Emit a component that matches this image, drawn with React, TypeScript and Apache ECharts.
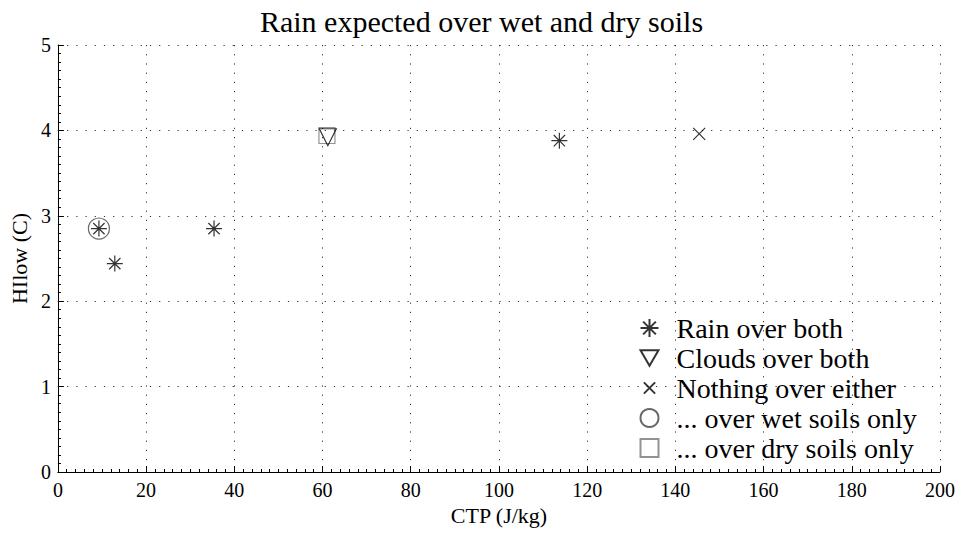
import React, { useEffect, useRef } from "react";
import * as echarts from "echarts";

const title = "Rain expected over wet and dry soils";
const xName = "CTP (J/kg)";
const yName = "HIlow (C)";

const rainOverBoth: number[][] = [
  [9.3, 2.85],
  [12.9, 2.44],
  [35.4, 2.85],
  [113.7, 3.88],
];
const cloudsOverBoth: number[][] = [[61.2, 3.92]];
const nothingOverEither: number[][] = [[145.4, 3.96]];
const wetSoilsOnly: number[][] = [[9.3, 2.85]];
const drySoilsOnly: number[][] = [[61.0, 3.94]];

const seriesNames = [
  "Rain over both",
  "Clouds over both",
  "Nothing over either",
  "... over wet soils only",
  "... over dry soils only",
];

const ASTERISK =
  "path://M0 -10 L0 10 M-10 0 L10 0 M-7.07 -7.07 L7.07 7.07 M-7.07 7.07 L7.07 -7.07";
const CROSS = "path://M-10 -10 L10 10 M-10 10 L10 -10";
const CROSS_SMALL = "path://M-16 -16 L-16 -16 M16 16 L16 16 M-10 -10 L10 10 M-10 10 L10 -10";
const TRI_DOWN = "path://M-10 -8.66 L10 -8.66 L0 8.66 Z";

const FONT = "'Liberation Serif', 'Times New Roman', serif";

export default function App() {
  const ref = useRef<HTMLDivElement>(null);
  useEffect(() => {
    document.body.style.margin = "0";
    if (!ref.current) return;
    const chart = echarts.init(ref.current, undefined, { renderer: "svg" });
    const gridLine = { color: "#333", width: 1, type: [1.2, 8] as number[] };
    const stroke = (c: string, w = 1) => ({ color: "none", borderColor: c, borderWidth: w });
    chart.setOption({
      animation: false,
      backgroundColor: "#fff",
      title: {
        text: title,
        left: "center",
        top: 1,
        textStyle: { fontFamily: FONT, fontSize: 30, fontWeight: "normal", color: "#000" },
      },
      grid: { left: 57, right: 23, top: 45, bottom: 63, containLabel: false },
      xAxis: {
        type: "value",
        min: 0,
        max: 200,
        interval: 20,
        name: xName,
        nameLocation: "middle",
        nameGap: 28,
        nameTextStyle: { fontFamily: FONT, fontSize: 22, color: "#000" },
        axisLine: { show: true, onZero: false, lineStyle: { color: "#000", width: 1 } },
        axisTick: { show: true, inside: true, length: 6, lineStyle: { color: "#000" } },
        minorTick: { show: true, splitNumber: 10, length: 3, lineStyle: { color: "#000" } },
        axisLabel: { fontFamily: FONT, fontSize: 20, color: "#000", margin: 8 },
        splitLine: { show: true, lineStyle: gridLine },
      },
      yAxis: {
        type: "value",
        min: 0,
        max: 5,
        interval: 1,
        name: yName,
        nameLocation: "middle",
        nameGap: 24,
        nameTextStyle: { fontFamily: FONT, fontSize: 22, color: "#000" },
        axisLine: { show: true, onZero: false, lineStyle: { color: "#000", width: 1 } },
        axisTick: { show: true, inside: true, length: 6, lineStyle: { color: "#000" } },
        minorTick: { show: true, splitNumber: 10, length: 3, lineStyle: { color: "#000" } },
        axisLabel: { fontFamily: FONT, fontSize: 20, color: "#000", margin: 7 },
        splitLine: { show: true, lineStyle: gridLine },
      },
      legend: {
        orient: "vertical",
        left: 633,
        top: 309,
        itemWidth: 18,
        itemHeight: 18,
        itemGap: 2,
        textStyle: { fontFamily: FONT, fontSize: 28, color: "#000", padding: [0, 0, 0, 13] },
        data: [
          { name: seriesNames[0] },
          { name: seriesNames[1] },
          { name: seriesNames[2], icon: CROSS_SMALL },
          { name: seriesNames[3] },
          { name: seriesNames[4] },
        ],
      },
      series: [
        {
          name: seriesNames[3],
          type: "scatter",
          data: wetSoilsOnly,
          symbol: "circle",
          symbolSize: 21,
          itemStyle: stroke("#444", 1.2),
          z: 2,
        },
        {
          name: seriesNames[4],
          type: "scatter",
          data: drySoilsOnly,
          symbol: "rect",
          symbolSize: 16,
          itemStyle: stroke("#777", 1.2),
          z: 2,
        },
        {
          name: seriesNames[0],
          type: "scatter",
          data: rainOverBoth,
          symbol: ASTERISK,
          symbolSize: 16,
          itemStyle: stroke("#000", 1.2),
          z: 3,
        },
        {
          name: seriesNames[1],
          type: "scatter",
          data: cloudsOverBoth,
          symbol: TRI_DOWN,
          symbolSize: 17,
          itemStyle: stroke("#000", 1.2),
          z: 3,
        },
        {
          name: seriesNames[2],
          type: "scatter",
          data: nothingOverEither,
          symbol: CROSS,
          symbolSize: 12,
          itemStyle: stroke("#000", 1.2),
          z: 3,
        },
      ],
    });
    return () => chart.dispose();
  }, []);
  return <div ref={ref} style={{ width: 963, height: 535 }} />;
}
